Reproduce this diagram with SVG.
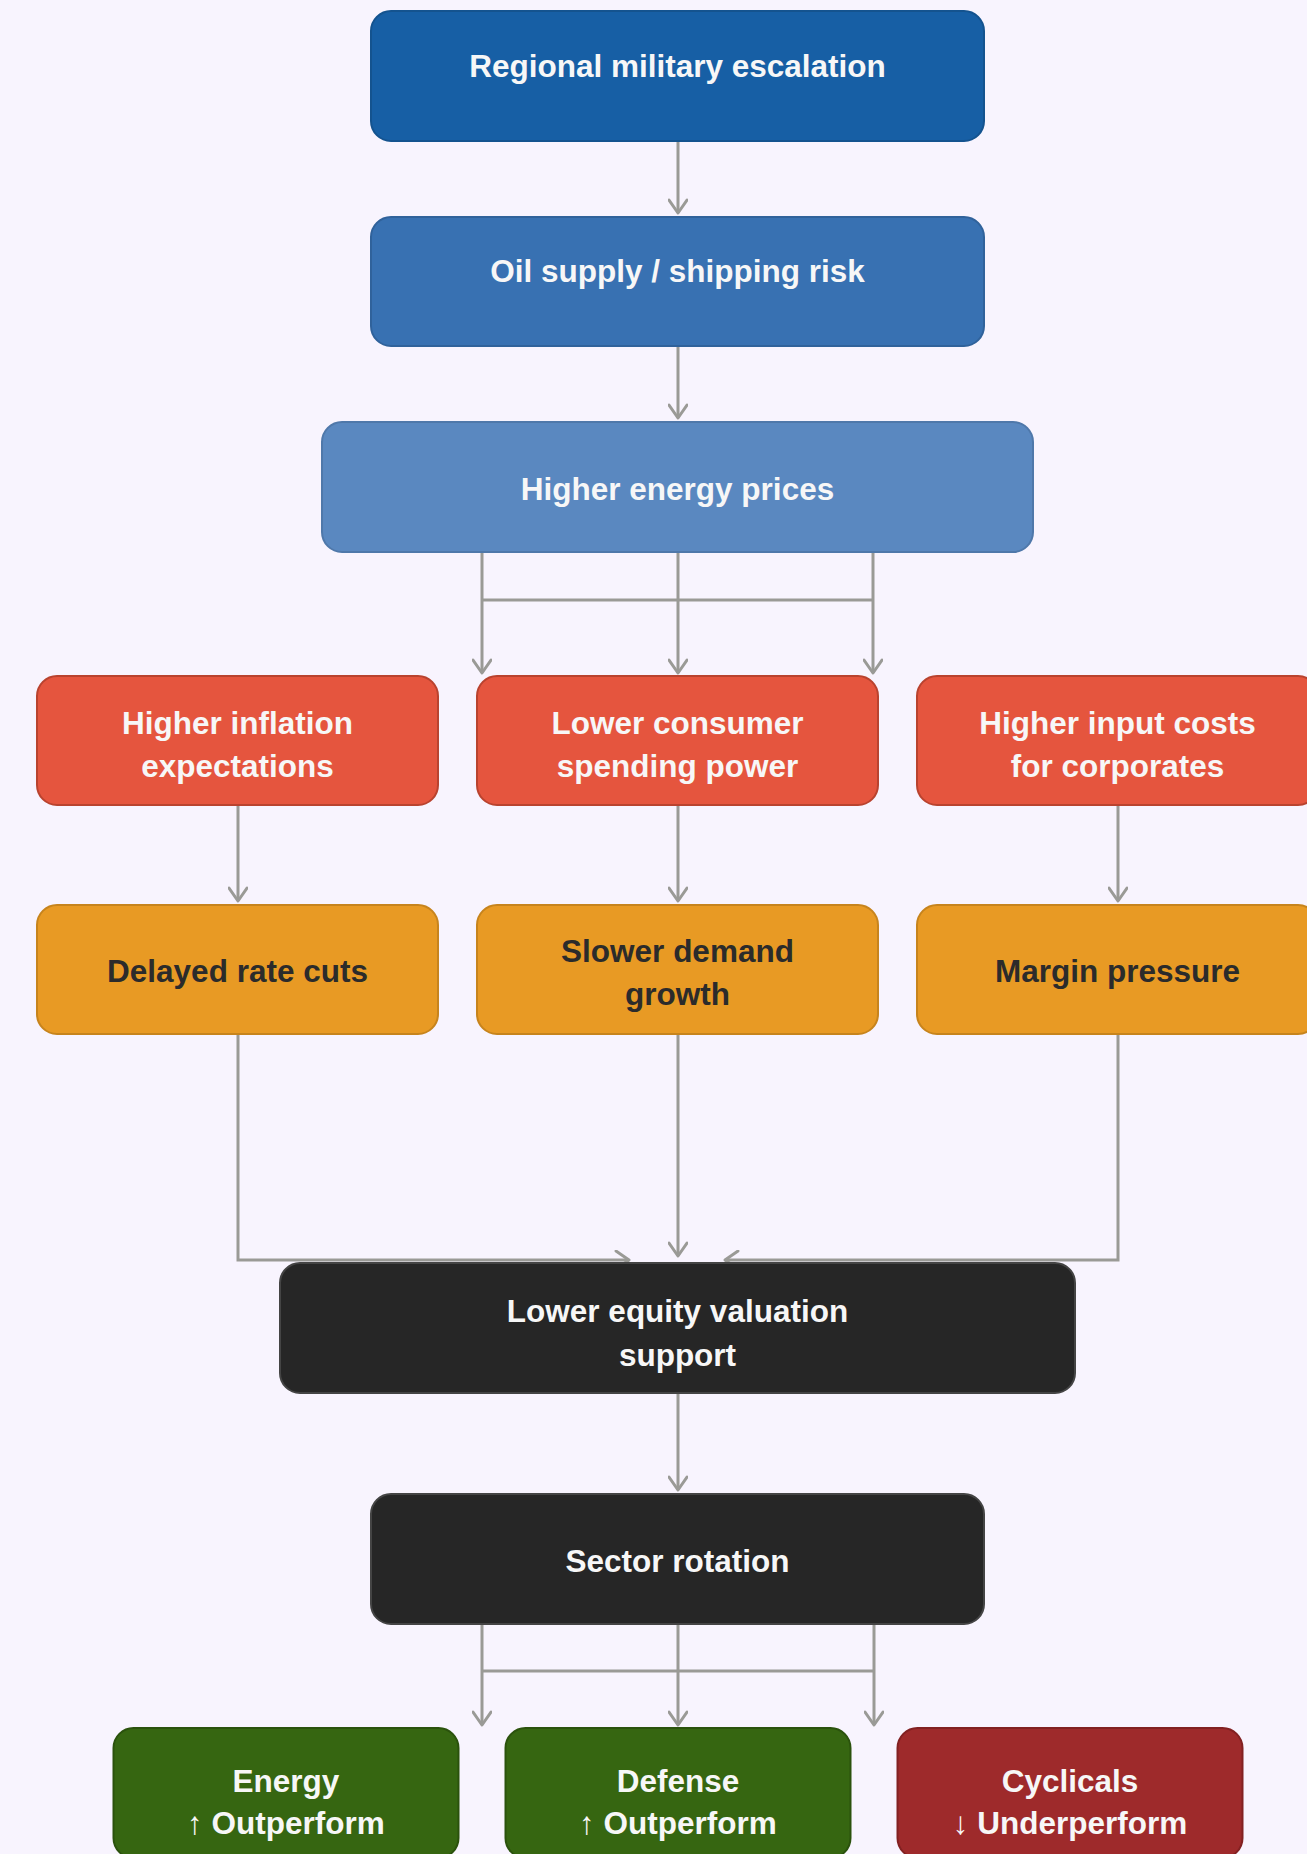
<svg xmlns="http://www.w3.org/2000/svg" width="1307" height="1854" viewBox="0 0 1307 1854">
<defs>
<marker id="arr" viewBox="0 0 20 20" refX="15" refY="10" markerWidth="20" markerHeight="20" markerUnits="userSpaceOnUse" orient="auto">
<path d="M2,1 L15,10 L2,19" fill="none" stroke="#9a9a96" stroke-width="3" stroke-linecap="round" stroke-linejoin="round"/>
</marker>
<style>
.e{fill:none;stroke:#9a9a96;stroke-width:3}
.n rect{stroke-width:2}
.t{font-family:"Liberation Sans",Arial,sans-serif;font-weight:bold;font-size:31.5px;text-anchor:middle;fill:#f7f7f7}
.d{fill:#2b2b2b}
.b1 rect{fill:#175fa5;stroke:#14538f}
.b2 rect{fill:#3871b2;stroke:#30629b}
.b3 rect{fill:#5a88c0;stroke:#4f78aa}
.r rect{fill:#e5553e;stroke:#b9432f}
.o rect{fill:#e89a24;stroke:#c7841d}
.k rect{fill:#262626;stroke:#444}
.g rect{fill:#366611;stroke:#2b520d}
.c rect{fill:#9e2a2b;stroke:#822122}
</style>
</defs>
<rect width="1307" height="1854" fill="#f8f4fe"/>
<g id="connectors">
<path class="e" d="M678,141 V213" marker-end="url(#arr)"/>
<path class="e" d="M678,346 V418" marker-end="url(#arr)"/>
<path class="e" d="M482,552 V673" marker-end="url(#arr)"/>
<path class="e" d="M678,552 V673" marker-end="url(#arr)"/>
<path class="e" d="M873,552 V673" marker-end="url(#arr)"/>
<path class="e" d="M482,600 H873"/>
<path class="e" d="M238,805 V901" marker-end="url(#arr)"/>
<path class="e" d="M678,805 V901" marker-end="url(#arr)"/>
<path class="e" d="M1118,805 V901" marker-end="url(#arr)"/>
<path class="e" d="M238,1034 V1260 H629" marker-end="url(#arr)"/>
<path class="e" d="M678,1034 V1256" marker-end="url(#arr)"/>
<path class="e" d="M1118,1034 V1260 H725" marker-end="url(#arr)"/>
<path class="e" d="M678,1393 V1490" marker-end="url(#arr)"/>
<path class="e" d="M482,1624 V1725" marker-end="url(#arr)"/>
<path class="e" d="M678,1624 V1725" marker-end="url(#arr)"/>
<path class="e" d="M874,1624 V1725" marker-end="url(#arr)"/>
<path class="e" d="M482,1671 H874"/>
</g>
<g id="n1" class="n b1"><rect x="371" y="11" width="613" height="130" rx="20"/><text class="t" x="677.5" y="77">Regional military escalation</text></g>
<g id="n2" class="n b2"><rect x="371" y="217" width="613" height="129" rx="20"/><text class="t" x="677.5" y="282">Oil supply / shipping risk</text></g>
<g id="n3" class="n b3"><rect x="322" y="422" width="711" height="130" rx="20"/><text class="t" x="677.5" y="500">Higher energy prices</text></g>
<g id="n4" class="n r"><rect x="37" y="676" width="401" height="129" rx="20"/><text class="t" x="237.5" y="734">Higher inflation</text><text class="t" x="237.5" y="777">expectations</text></g>
<g id="n5" class="n r"><rect x="477" y="676" width="401" height="129" rx="20"/><text class="t" x="677.5" y="734">Lower consumer</text><text class="t" x="677.5" y="777">spending power</text></g>
<g id="n6" class="n r"><rect x="917" y="676" width="401" height="129" rx="20"/><text class="t" x="1117.5" y="734">Higher input costs</text><text class="t" x="1117.5" y="777">for corporates</text></g>
<g id="n7" class="n o"><rect x="37" y="905" width="401" height="129" rx="20"/><text class="t d" x="237.5" y="982">Delayed rate cuts</text></g>
<g id="n8" class="n o"><rect x="477" y="905" width="401" height="129" rx="20"/><text class="t d" x="677.5" y="962">Slower demand</text><text class="t d" x="677.5" y="1005">growth</text></g>
<g id="n9" class="n o"><rect x="917" y="905" width="401" height="129" rx="20"/><text class="t d" x="1117.5" y="982">Margin pressure</text></g>
<g id="n10" class="n k"><rect x="280" y="1263" width="795" height="130" rx="20"/><text class="t" x="677.5" y="1322">Lower equity valuation</text><text class="t" x="677.5" y="1366">support</text></g>
<g id="n11" class="n k"><rect x="371" y="1494" width="613" height="130" rx="20"/><text class="t" x="677.5" y="1572">Sector rotation</text></g>
<g id="n12" class="n g"><rect x="113.5" y="1728" width="345" height="130" rx="20"/><text class="t" x="286" y="1792">Energy</text><text class="t" x="286" y="1834">↑ Outperform</text></g>
<g id="n13" class="n g"><rect x="505.5" y="1728" width="345" height="130" rx="20"/><text class="t" x="678" y="1792">Defense</text><text class="t" x="678" y="1834">↑ Outperform</text></g>
<g id="n14" class="n c"><rect x="897.5" y="1728" width="345" height="130" rx="20"/><text class="t" x="1070" y="1792">Cyclicals</text><text class="t" x="1070" y="1834">↓ Underperform</text></g>
</svg>
